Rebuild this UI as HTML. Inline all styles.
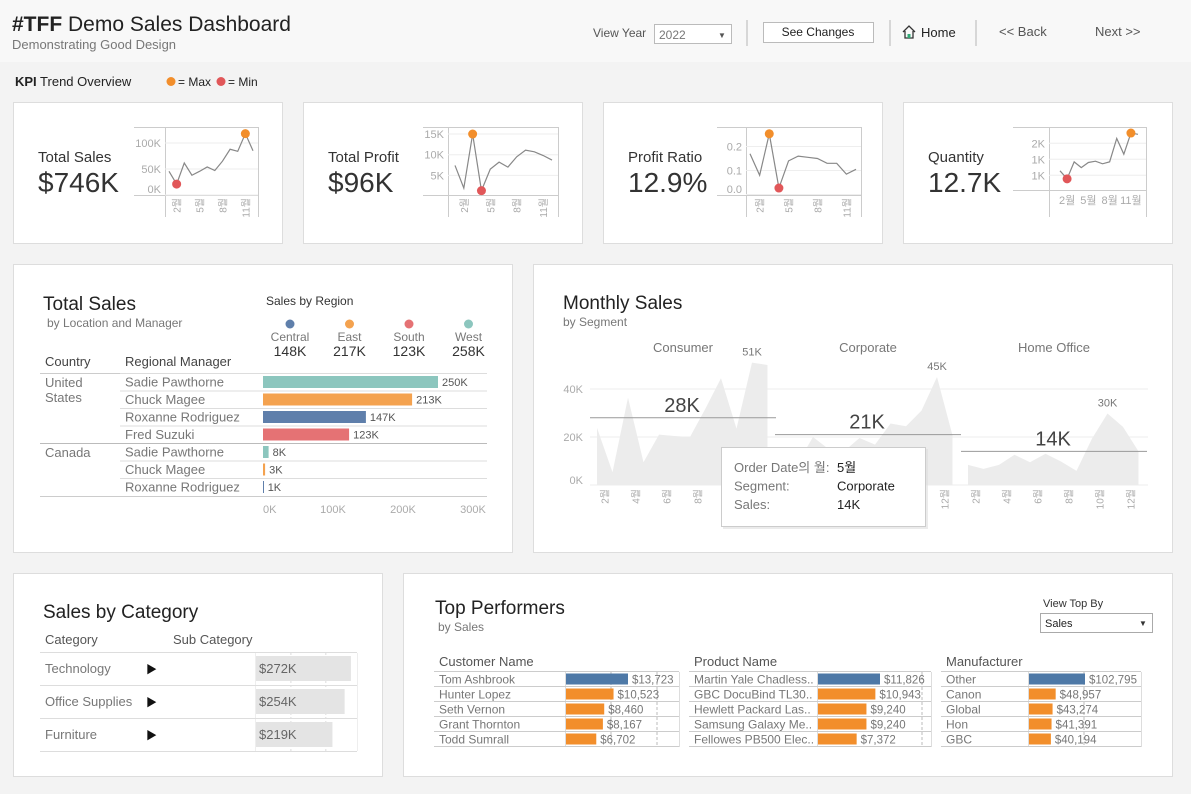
<!DOCTYPE html>
<html><head><meta charset="utf-8">
<style>
html,body{margin:0;padding:0;background:#f3f3f3;}
svg{display:block;font-family:"Liberation Sans","Noto Sans CJK KR",sans-serif;}
</style></head>
<body>
<svg id="dash" width="1191" height="794" viewBox="0 0 1191 794" xmlns="http://www.w3.org/2000/svg">
<rect x="0" y="0" width="1191" height="794" fill="#f3f3f3"/>
<rect x="0" y="0" width="1191" height="62" fill="#f8f8f8"/>
<text x="12" y="31" font-size="21" fill="#222"><tspan font-weight="bold">#TFF</tspan> Demo Sales Dashboard</text>
<text x="12" y="49" font-size="13" fill="#777">Demonstrating Good Design</text>
<text x="593" y="37" font-size="12" fill="#555">View Year</text>
<g><rect x="654.5" y="24.5" width="77" height="19" fill="#fff" stroke="#bbb"/><text x="659" y="39" font-size="12" fill="#777">2022</text><text x="718" y="38" font-size="8" fill="#555">▼</text></g>
<line x1="747" y1="20" x2="747" y2="46" stroke="#ccc" stroke-width="1.5"/>
<g><rect x="763.5" y="22.5" width="110" height="20" fill="#fff" stroke="#bbb"/><text x="818" y="36" font-size="12" fill="#222" text-anchor="middle">See Changes</text></g>
<line x1="890" y1="20" x2="890" y2="46" stroke="#ccc" stroke-width="1.5"/>
<g><path d="M903 32 L909 26 L915 32 M905 31 V38 H913 V31" fill="none" stroke="#333" stroke-width="1.3"/><rect x="907.5" y="34" width="3" height="4" fill="#3a7"/><text x="921" y="37" font-size="13" fill="#222">Home</text></g>
<line x1="976" y1="20" x2="976" y2="46" stroke="#ccc" stroke-width="1.5"/>
<text x="999" y="36" font-size="13" fill="#555">&lt;&lt; Back</text>
<text x="1095" y="36" font-size="13" fill="#555">Next &gt;&gt;</text>
<text x="15" y="86" font-size="13" fill="#222"><tspan font-weight="bold">KPI</tspan> Trend Overview</text>
<g><circle cx="171" cy="81.5" r="4.5" fill="#f28e2b"/><text x="178" y="86" font-size="12" fill="#222">= Max</text><circle cx="221" cy="81.5" r="4.5" fill="#e15759"/><text x="228" y="86" font-size="12" fill="#222">= Min</text></g>

<rect x="13.5" y="102.5" width="269" height="141" fill="#fff" stroke="#ddd"/>
<rect x="303.5" y="102.5" width="279" height="141" fill="#fff" stroke="#ddd"/>
<rect x="603.5" y="102.5" width="279" height="141" fill="#fff" stroke="#ddd"/>
<rect x="903.5" y="102.5" width="269" height="141" fill="#fff" stroke="#ddd"/>
<rect x="13.5" y="264.5" width="499" height="288" fill="#fff" stroke="#ddd"/>
<rect x="533.5" y="264.5" width="639" height="288" fill="#fff" stroke="#ddd"/>
<rect x="13.5" y="573.5" width="369" height="203" fill="#fff" stroke="#ddd"/>
<rect x="403.5" y="573.5" width="769" height="203" fill="#fff" stroke="#ddd"/>

<text x="38" y="162" font-size="15" fill="#333">Total Sales</text>
<text x="38" y="192" font-size="28" fill="#333">$746K</text>
<text x="328" y="162" font-size="15" fill="#333">Total Profit</text>
<text x="328" y="192" font-size="28" fill="#333">$96K</text>
<text x="628" y="162" font-size="15" fill="#333">Profit Ratio</text>
<text x="628" y="192" font-size="28" fill="#333">12.9%</text>
<text x="928" y="162" font-size="15" fill="#333">Quantity</text>
<text x="928" y="192" font-size="28" fill="#333">12.7K</text>

<g id="sparks"></g>

<text x="43" y="310" font-size="19" fill="#222">Total Sales</text>
<text x="47" y="327" font-size="12" fill="#777">by Location and Manager</text>
<text x="266" y="305" font-size="12" fill="#333">Sales by Region</text>
<g id="regionLegend"></g>
<text x="45" y="366" font-size="13" fill="#444">Country</text>
<text x="125" y="366" font-size="13" fill="#444">Regional Manager</text>
<line x1="40" y1="373.5" x2="487" y2="373.5" stroke="#ccc"/>
<text x="45" y="387" font-size="13" fill="#777">United</text>
<text x="45" y="402" font-size="13" fill="#777">States</text>
<text x="45" y="457" font-size="13" fill="#777">Canada</text>
<g id="managerBars"></g>

<text x="563" y="309" font-size="19" fill="#222">Monthly Sales</text>
<text x="563" y="326" font-size="12" fill="#777">by Segment</text>
<g id="monthly"></g>

<text x="43" y="618" font-size="19" fill="#222">Sales by Category</text>
<text x="45" y="644" font-size="13" fill="#555">Category</text>
<text x="173" y="644" font-size="13" fill="#555">Sub Category</text>
<g id="category"></g>

<text x="435" y="614" font-size="19" fill="#222">Top Performers</text>
<text x="438" y="631" font-size="12" fill="#777">by Sales</text>
<text x="1043" y="607" font-size="11" fill="#333">View Top By</text>
<g><rect x="1040.5" y="613.5" width="112" height="19" fill="#fff" stroke="#aaa"/><text x="1045" y="627" font-size="11" fill="#222">Sales</text><text x="1139" y="626" font-size="8" fill="#333">▼</text></g>
<g id="top"></g>

<g id="tooltip"></g>
</svg>

<script>
const NS = "http://www.w3.org/2000/svg";
function mk(parent, tag, attrs, txt) {
  const e = document.createElementNS(NS, tag);
  for (const k in attrs) e.setAttribute(k, attrs[k]);
  if (txt !== undefined) e.textContent = txt;
  parent.appendChild(e);
  return e;
}

const months = [1,2,3,4,5,6,7,8,9,10,11,12];
const salesMonthlyK = [45.5,21,61.5,38,45.5,54,47,65,88,84,118,85];
const profitMonthlyK = [7.4,1.9,15,1.3,6.5,8.2,7,9.5,11.1,10.7,9.8,8.7];
const ratioMonthly = [0.17,0.08,0.253,0.027,0.14,0.16,0.155,0.15,0.13,0.13,0.085,0.105];
const qtyMonthly = [1140,890,1420,1240,1400,1440,1360,1420,2150,1660,2320,2280];
const salesTicks = [0,50,100], salesTickLabels = ["0K","50K","100K"];
const profitTicks = [5,10,15], profitTickLabels = ["5K","10K","15K"];
const ratioTicks = [0,0.1,0.2], ratioTickLabels = ["0.0","0.1","0.2"];
const qtyTicks = [1000,1500,2000], qtyTickLabels = ["1K","1K","2K"];

function spark(cfg) {
  const g = mk(document.getElementById('sparks'), 'g', {});
  
  
  const xs = m => cfg.x0 + (m - 1) * (cfg.x1 - cfg.x0) / 11;
  const ys = v => cfg.yBase - (v - cfg.vBase) * cfg.yScale;
  mk(g, 'line', {x1: cfg.boxL, y1: cfg.top + .5, x2: cfg.boxR, y2: cfg.top + .5, stroke: '#ccc'});
  mk(g, 'line', {x1: cfg.axis + .5, y1: cfg.top, x2: cfg.axis + .5, y2: cfg.bottom, stroke: '#ccc'});
  mk(g, 'line', {x1: cfg.boxR + .5, y1: cfg.top, x2: cfg.boxR + .5, y2: cfg.bottom, stroke: '#ccc'});
  mk(g, 'line', {x1: cfg.boxL, y1: cfg.xAxis + .5, x2: cfg.boxR, y2: cfg.xAxis + .5, stroke: '#ccc'});
  cfg.ticks.forEach((t, i) => {
    const y = ys(t);
    mk(g, 'line', {x1: cfg.axis, y1: y, x2: cfg.boxR, y2: y, stroke: '#eee'});
    const tl = mk(g, 'text', {x: cfg.axis - 4, y: Math.min(y + 4, cfg.xAxis - 2), 'font-size': 11, fill: '#aaa', 'text-anchor': 'end'}, cfg.tickLabels[i]);
    
    
  });
  [2,5,8,11].forEach(m => {
    let t;
    if (cfg.horizMonths) {
      t = mk(g, 'text', {x: xs(m), y: cfg.xAxis + 14, 'font-size': 11, fill: '#aaa', 'text-anchor': 'middle'}, m + '월');
    } else {
      t = mk(g, 'text', {x: 0, y: 0, 'font-size': 10, fill: '#aaa', 'text-anchor': 'end',
        transform: `translate(${xs(m) + 4},${cfg.xAxis + 3}) rotate(-90)`}, m + '월');
    }
    
    
  });
  const pts = cfg.data.map((v, i) => xs(months[i]) + ',' + ys(v)).join(' ');
  const pl = mk(g, 'polyline', {points: pts, fill: 'none', stroke: '#888', 'stroke-width': 1.2});
  
  
  const mx = cfg.data.indexOf(Math.max(...cfg.data));
  const mn = cfg.data.indexOf(Math.min(...cfg.data));
  const c1 = mk(g, 'circle', {cx: xs(months[mx]), cy: ys(cfg.data[mx]), r: 4.5, fill: '#f28e2b'});
  
  
  const c2 = mk(g, 'circle', {cx: xs(months[mn]), cy: ys(cfg.data[mn]), r: 4.5, fill: '#e15759'});
  
  
}
spark({name:'sales-sparkline', data:salesMonthlyK, ticks:salesTicks, tickLabels:salesTickLabels,
  boxL:134, boxR:258, axis:165, top:127, bottom:217, xAxis:195, x0:169, x1:253, yBase:195, vBase:0, yScale:0.52});
spark({name:'profit-sparkline', data:profitMonthlyK, ticks:profitTicks, tickLabels:profitTickLabels,
  boxL:423, boxR:558, axis:448, top:127, bottom:217, xAxis:195, x0:455, x1:552, yBase:196, vBase:0, yScale:4.13});
spark({name:'ratio-sparkline', data:ratioMonthly, ticks:ratioTicks, tickLabels:ratioTickLabels,
  boxL:717, boxR:861, axis:746, top:127, bottom:217, xAxis:195, x0:750, x1:856, yBase:194.5, vBase:0, yScale:240});
spark({name:'quantity-sparkline', data:qtyMonthly, ticks:qtyTicks, tickLabels:qtyTickLabels, horizMonths:true,
  boxL:1013, boxR:1146, axis:1049, top:127, bottom:217, xAxis:190, x0:1060, x1:1138, yBase:175.3, vBase:1000, yScale:0.032});

const regions = ["Central","East","South","West"];
const regionSalesLabels = ["148K","217K","123K","258K"];
const regionColors = ["#5f7fab","#f4a24f","#e57274","#8cc6be"];
const legendG = document.getElementById('regionLegend');
regions.forEach((r, i) => {
  const cx = 290 + i * 59.5;
  const g = mk(legendG, 'g', {});
  
  
  mk(g, 'circle', {cx, cy: 324, r: 4.5, fill: regionColors[i]});
  mk(g, 'text', {x: cx, y: 341, 'font-size': 12, fill: '#777', 'text-anchor': 'middle'}, r);
  mk(g, 'text', {x: cx, y: 356, 'font-size': 14, fill: '#333', 'text-anchor': 'middle'}, regionSalesLabels[i]);
});

const managers = ["Sadie Pawthorne","Chuck Magee","Roxanne Rodriguez","Fred Suzuki","Sadie Pawthorne","Chuck Magee","Roxanne Rodriguez"];
const managerSalesK = [250,213,147,123,8,3,1];
const managerRegion = [3,1,0,2,3,1,0];
const locAxisTicks = [0,100,200,300];
const locAxisLabels = ["0K","100K","200K","300K"];
const mb = document.getElementById('managerBars');
const lx = v => 263 + v * 0.7;
const rowY = [382,399.5,417,434.5,452,469.5,487];
managers.forEach((m, i) => {
  const y = rowY[i];
  const line = mk(mb, 'line', {x1: i === 4 ? 40 : 120, y1: y - 8.5, x2: 487, y2: y - 8.5, stroke: i === 4 ? '#bbb' : '#ddd'});
  
  
  const t = mk(mb, 'text', {x: 125, y: y + 4.5, 'font-size': 13, fill: '#777'}, m);
  
  
  const b = mk(mb, 'rect', {x: lx(0), y: y - 6, width: Math.max(1, lx(managerSalesK[i]) - lx(0)), height: 12, fill: regionColors[managerRegion[i]]});
  
  
  const v = mk(mb, 'text', {x: lx(managerSalesK[i]) + 4, y: y + 4, 'font-size': 11, fill: '#555'}, managerSalesK[i] + 'K');
  
  
});
mk(mb, 'line', {x1: 40, y1: 496.5, x2: 487, y2: 496.5, stroke: '#ccc'});
locAxisTicks.forEach((t, i) => {
  const e = mk(mb, 'text', {x: lx(t), y: 513, 'font-size': 11, fill: '#aaa', 'text-anchor': i === 0 ? 'start' : 'middle'}, locAxisLabels[i]);
  
  
});

const segments = ["Consumer","Corporate","Home Office"];
const consumerK = [23.8,5.3,36.4,9.5,21,20.4,20,31.9,44.5,23.5,51,50];
const corporateK = [12,9,20,15,14,19.6,16.8,25.6,24.5,31,45,20.7];
const homeOfficeK = [8.4,6.7,8.4,12.6,9.5,13,9.8,5.9,19.3,29.8,24.2,14];
const segmentAvgK = [28,21,14];
const segmentPeakLabels = ["51K","45K","30K"];
const monthlyTicks = [0,20,40];
const monthlyTickLabels = ["0K","20K","40K"];
const segData = [consumerK, corporateK, homeOfficeK];
const mg = document.getElementById('monthly');
const my = v => 485 - v * 2.4;
monthlyTicks.forEach((t, i) => {
  mk(mg, 'line', {x1: 590, y1: my(t), x2: 1148, y2: my(t), stroke: '#eee'});
  const e = mk(mg, 'text', {x: 583, y: t === 0 ? my(t) - 1 : my(t) + 4, 'font-size': 11, fill: '#aaa', 'text-anchor': 'end'}, monthlyTickLabels[i]);
  
  
});
const paneX = [590, 775, 961];
segments.forEach((s, si) => {
  const px0 = paneX[si] + 7, step = 15.5;
  const mxs = m => px0 + (m - 1) * step;
  const g = mk(mg, 'g', {});
  
  
  const h = mk(g, 'text', {x: paneX[si] + 93, y: 352, 'font-size': 13, fill: '#777', 'text-anchor': 'middle'}, s);
  
  
  const d = segData[si];
  let path = `M${mxs(1)},${my(0)} ` + d.map((v, i) => `L${mxs(months[i])},${my(v)}`).join(' ') + ` L${mxs(12)},${my(0)} Z`;
  const a = mk(g, 'path', {d: path, fill: '#ececec'});
  
  
  const pk = d.indexOf(Math.max(...d));
  const pl = mk(g, 'text', {x: mxs(months[pk]) - (pk === 11 ? 10 : 0), y: my(d[pk]) - 7, 'font-size': 11, fill: '#777', 'text-anchor': 'middle'}, segmentPeakLabels[si]);
  
  
  const ay = my(segmentAvgK[si]);
  const rl = mk(g, 'line', {x1: paneX[si], y1: ay, x2: paneX[si] + 186, y2: ay, stroke: '#999'});
  
  
  const al = mk(g, 'text', {x: paneX[si] + 92, y: ay - 6, 'font-size': 20, fill: '#444', 'text-anchor': 'middle'}, segmentAvgK[si] + 'K');
  
  
  [2,4,6,8,10,12].forEach(m => {
    const t = mk(g, 'text', {x: 0, y: 0, 'font-size': 10, fill: '#aaa', 'text-anchor': 'end',
      transform: `translate(${mxs(m) - 4},${489}) rotate(-90)`}, m + '월');
    
    
  });
});

const tt = document.getElementById('tooltip');
mk(tt, 'rect', {x: 723, y: 449, width: 205, height: 80, fill: '#ddd', opacity: .6});
mk(tt, 'rect', {x: 721.5, y: 447.5, width: 204, height: 79, fill: '#fff', stroke: '#ccc'});
const ttLabels = ["Order Date의 월:", "Segment:", "Sales:"];
const ttValues = ["5월", "Corporate", "14K"];
ttLabels.forEach((l, i) => {
  mk(tt, 'text', {x: 734, y: 472 + i * 18.5, 'font-size': 13, fill: '#777'}, l);
  mk(tt, 'text', {x: 837, y: 472 + i * 18.5, 'font-size': 13, fill: '#222'}, ttValues[i]);
});

const categories = ["Technology","Office Supplies","Furniture"];
const categorySalesK = [272,254,219];
const cg = document.getElementById('category');
const cx = v => 256 + v * 0.349;
mk(cg, 'line', {x1: 40, y1: 652.5, x2: 357, y2: 652.5, stroke: '#ddd'});
mk(cg, 'line', {x1: 255.5, y1: 653, x2: 255.5, y2: 751, stroke: '#eee'});
mk(cg, 'line', {x1: 357.5, y1: 653, x2: 357.5, y2: 751, stroke: '#eee'});
[100,200].forEach(v => mk(cg, 'line', {x1: cx(v), y1: 653, x2: cx(v), y2: 751, stroke: '#ddd', 'stroke-dasharray': '2,2'}));
categories.forEach((c, i) => {
  const y = 668 + i * 33;
  const t = mk(cg, 'text', {x: 45, y: y + 5, 'font-size': 13, fill: '#777'}, c);
  
  
  const ar = mk(cg, 'text', {x: 146, y: y + 5, 'font-size': 11, fill: '#111'}, '▶');
  
  
  const b = mk(cg, 'rect', {x: cx(0), y: y - 12, width: cx(categorySalesK[i]) - cx(0), height: 25, fill: '#e4e4e4'});
  
  
  const v = mk(cg, 'text', {x: 259, y: y + 5, 'font-size': 13, fill: '#666'}, '$' + categorySalesK[i] + 'K');
  
  
  mk(cg, 'line', {x1: 40, y1: y + 17.5, x2: 357, y2: y + 17.5, stroke: '#ddd'});
});

const customerNames = ["Tom Ashbrook","Hunter Lopez","Seth Vernon","Grant Thornton","Todd Sumrall"];
const customerSales = [13723,10523,8460,8167,6702];
const productNames = ["Martin Yale Chadless..","GBC DocuBind TL30..","Hewlett Packard Las..","Samsung Galaxy Me..","Fellowes PB500 Elec.."];
const productSales = [11826,10943,9240,9240,7372];
const manufacturerNames = ["Other","Canon","Global","Hon","GBC"];
const manufacturerSales = [102795,48957,43274,41391,40194];
const tg = document.getElementById('top');
const tables = [
  {title: "Customer Name", names: customerNames, vals: customerSales, x: 434, w: 245, bx: 566, scale: 62 / 13723, dash: [611, 657], nm: 'customer'},
  {title: "Product Name", names: productNames, vals: productSales, x: 689, w: 242, bx: 818, scale: 62 / 11826, dash: [922], nm: 'product'},
  {title: "Manufacturer", names: manufacturerNames, vals: manufacturerSales, x: 941, w: 200, bx: 1029, scale: 56 / 102795, dash: [1084], nm: 'manufacturer'}
];
tables.forEach(tb => {
  const g = mk(tg, 'g', {});
  
  
  const h = mk(g, 'text', {x: tb.x + 5, y: 666, 'font-size': 13, fill: '#555'}, tb.title);
  
  
  mk(g, 'line', {x1: tb.x, y1: 671.5, x2: tb.x + tb.w, y2: 671.5, stroke: '#ccc'});
  mk(g, 'line', {x1: tb.bx - 0.5, y1: 672, x2: tb.bx - 0.5, y2: 747, stroke: '#ddd'});
  mk(g, 'line', {x1: tb.x + tb.w + 0.5, y1: 672, x2: tb.x + tb.w + 0.5, y2: 747, stroke: '#ddd'});
  tb.dash.forEach(dx => mk(g, 'line', {x1: dx, y1: 672, x2: dx, y2: 747, stroke: '#bbb', 'stroke-dasharray': '3,2'}));
  tb.names.forEach((n, i) => {
    const y = 679 + i * 15;
    const t = mk(g, 'text', {x: tb.x + 5, y: y + 4.5, 'font-size': 12, fill: '#777'}, n);
    
    
    const bw = tb.vals[i] * tb.scale;
    const b = mk(g, 'rect', {x: tb.bx, y: y - 5.5, width: bw, height: 11, fill: i === 0 ? '#4e79a7' : '#f28e2b'});
    
    
    const v = mk(g, 'text', {x: tb.bx + bw + 4, y: y + 4.5, 'font-size': 11.5, fill: '#777'}, '$' + tb.vals[i].toLocaleString('en-US'));
    
    
    mk(g, 'line', {x1: tb.x, y1: y + 7.5, x2: tb.x + tb.w, y2: y + 7.5, stroke: '#ccc'});
  });
});
</script>
</body></html>
